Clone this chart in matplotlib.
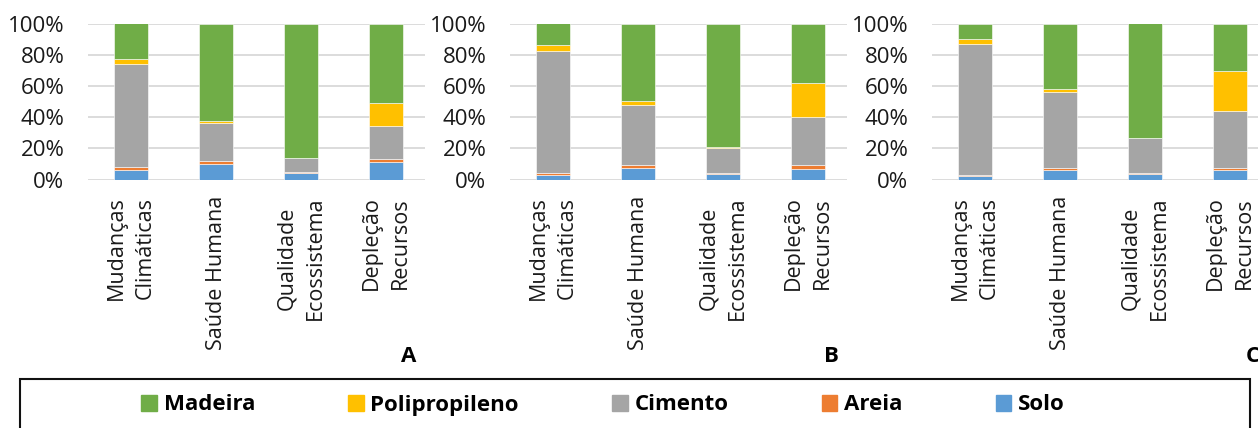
import matplotlib.pyplot as plt
from matplotlib.patches import Rectangle, Patch
from matplotlib.ticker import PercentFormatter

plt.rcParams['font.family'] = ['Open Sans', 'DejaVu Sans']

categorias = ["Mudanças\nClimáticas", "Saúde Humana", "Qualidade\nEcossistema", "Depleção\nRecursos"]
paineis = ["A", "B", "C"]

# contribuição (%) de cada material por categoria de impacto
solo_a = [6.0, 10.0, 4.1, 11.0]
areia_a = [2.0, 2.0, 0.8, 2.0]
cimento_a = [66.0, 24.0, 8.8, 21.0]
pp_a = [3.0, 1.5, 0.3, 15.0]
madeira_a = [23.0, 62.5, 86.0, 51.0]

solo_b = [2.8, 7.5, 3.4, 6.9]
areia_b = [1.3, 1.7, 0.7, 2.3]
cimento_b = [78.3, 38.8, 15.8, 30.8]
pp_b = [3.9, 2.1, 0.9, 22.1]
madeira_b = [13.7, 49.9, 79.2, 37.9]

solo_c = [2.1, 6.0, 3.6, 6.0]
areia_c = [1.1, 1.5, 0.5, 1.3]
cimento_c = [83.6, 48.3, 22.4, 36.3]
pp_c = [3.4, 2.5, 0.0, 26.1]
madeira_c = [9.8, 41.7, 73.5, 30.3]

materiais = ["Solo", "Areia", "Cimento", "Polipropileno", "Madeira"]
cores = ["#5B9BD5", "#ED7D31", "#A5A5A5", "#FFC000", "#70AD47"]

dados = {
    "A": [solo_a, areia_a, cimento_a, pp_a, madeira_a],
    "B": [solo_b, areia_b, cimento_b, pp_b, madeira_b],
    "C": [solo_c, areia_c, cimento_c, pp_c, madeira_c],
}

W, H = 1258, 428
fig = plt.figure(figsize=(W / 100, H / 100), dpi=100)

lefts = [88, 510, 932]
x = range(len(categorias))

for painel, left in zip(paineis, lefts):
    ax = fig.add_axes([left / W, 1 - 179.5 / H, 337 / W, 156 / H])
    base = [0.0] * len(categorias)
    for serie, cor in zip(dados[painel], cores):
        ax.bar(x, serie, width=0.4, bottom=base, color=cor,
               edgecolor="white", linewidth=0.4, zorder=3)
        base = [b + v for b, v in zip(base, serie)]

    ax.set_ylim(0, 100)
    ax.set_xlim(-0.506, 3.459)
    ax.set_yticks(range(0, 101, 20))
    ax.yaxis.set_major_formatter(PercentFormatter(decimals=0))
    ax.grid(axis="y", color="#d9d9d9", linewidth=1.3, zorder=0)
    ax.set_axisbelow(True)
    for s in ax.spines.values():
        s.set_visible(False)
    ax.tick_params(axis="y", length=0, pad=17, labelsize=16, labelcolor="#1a1a1a")
    ax.set_xticks(list(x))
    ax.set_xticklabels(categorias, rotation=90, fontsize=15.5, color="#1a1a1a",
                       multialignment="center", linespacing=1.5)
    ax.tick_params(axis="x", length=0, pad=12)

    fig.text((left + 321) / W, 1 - 356 / H, painel, fontsize=16,
             fontweight="bold", ha="center", va="center")

# moldura da legenda
fig.patches.append(Rectangle((20 / W, -0.1), 1230 / W, 0.1 + 49 / H,
                             transform=fig.transFigure, fill=False,
                             edgecolor="#111111", linewidth=1.5))

handles = [Patch(color=c, label=m) for m, c in zip(materiais, cores)][::-1]
fig.legend(handles=handles, loc="center", ncol=5,
           bbox_to_anchor=(603 / W, 1 - 405 / H), frameon=False,
           prop={"weight": "bold", "size": 16},
           handlelength=0.7, handleheight=0.7, handletextpad=0.3,
           columnspacing=4.2)

fig.savefig("out.png", dpi=100)
